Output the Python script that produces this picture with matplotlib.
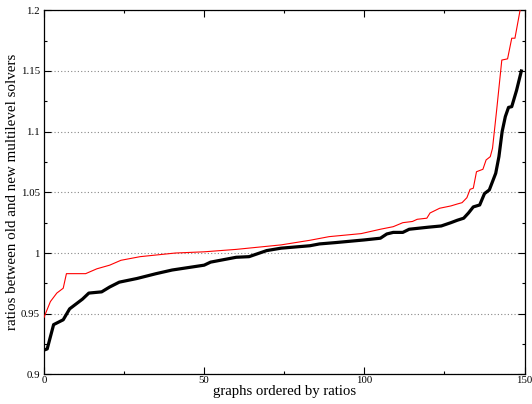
import matplotlib
matplotlib.use("Agg")
import matplotlib.pyplot as plt
from matplotlib.ticker import MultipleLocator, FuncFormatter

# data (knots of the piecewise curves)
black_x = [0, 1, 3, 6, 8, 10, 12, 14, 18, 20.5, 23.5, 29, 35, 40, 45, 50, 52, 60, 64,
           69.5, 74, 83, 86, 91, 100, 105, 107, 109, 112, 114, 120, 124, 127, 129, 131,
           132.5, 134, 136, 137.5, 139, 141, 142, 143, 144, 145, 146, 147.5, 149]
black_y = [0.920, 0.921, 0.941, 0.945, 0.954, 0.958, 0.962, 0.967, 0.968, 0.972, 0.976,
           0.979, 0.983, 0.986, 0.988, 0.990, 0.9925, 0.9965, 0.997, 1.002, 1.004, 1.006,
           1.0075, 1.0086, 1.0108, 1.0122, 1.0157, 1.017, 1.017, 1.0196, 1.0213, 1.0223,
           1.025, 1.027, 1.0287, 1.033, 1.038, 1.0396, 1.049, 1.052, 1.0657, 1.0794, 1.1,
           1.1124, 1.12, 1.1206, 1.134, 1.15]

red_x = [0, 2, 4, 6, 7, 13, 16.5, 20.5, 24, 30, 41, 50, 60, 74, 83, 89, 99, 105, 109,
         112, 115, 116.5, 119.5, 120.5, 123.5, 127, 129, 130.5, 132, 133, 134, 135, 137,
         138, 139.3, 140, 141.3, 142.9, 144.7, 146, 147, 148.6, 149]
red_y = [0.947, 0.960, 0.967, 0.971, 0.983, 0.983, 0.987, 0.990, 0.994, 0.997, 1.000,
         1.001, 1.003, 1.0067, 1.0105, 1.0135, 1.016, 1.0196, 1.0217, 1.025, 1.026,
         1.0278, 1.0287, 1.033, 1.0369, 1.0388, 1.0404, 1.0415, 1.0456, 1.0525, 1.0534,
         1.067, 1.069, 1.0767, 1.0794, 1.0863, 1.118, 1.159, 1.160, 1.177, 1.177, 1.2,
         1.203]

plt.rcParams['font.family'] = ['Liberation Serif', 'DejaVu Serif']

fig = plt.figure(figsize=(5.32, 4.04), dpi=100)
ax = fig.add_axes([0.0827, 0.0733, 0.9033, 0.9012])

ax.plot(red_x, red_y, color='#ff0000', lw=0.8, zorder=3)
ax.plot(black_x, black_y, color='black', lw=2.3, zorder=4)

ax.set_xlim(0, 150)
ax.set_ylim(0.9, 1.2)
ax.xaxis.set_major_locator(MultipleLocator(50))
ax.xaxis.set_minor_locator(MultipleLocator(25))
ax.yaxis.set_major_locator(MultipleLocator(0.05))
ax.yaxis.set_minor_locator(MultipleLocator(0.025))
ax.yaxis.set_major_formatter(FuncFormatter(lambda v, p: ('%.2f' % v).rstrip('0').rstrip('.')))

ax.tick_params(which='both', direction='in', top=True, right=True, labelsize=7.8,
               width=0.8)
ax.tick_params(axis='x', which='major', pad=1.5)
ax.tick_params(axis='y', which='major', pad=3)
ax.tick_params(which='major', length=5)
ax.tick_params(which='minor', length=2.5)
for s in ax.spines.values():
    s.set_linewidth(0.9)

ax.grid(axis='y', which='major', linestyle=(0, (1, 2)), color='#888888', lw=0.8)

ax.set_xlabel('graphs ordered by ratios', fontsize=10.6, labelpad=0)
ax.set_ylabel('ratios between old and new multilevel solvers', fontsize=10.8, labelpad=1)

fig.savefig('out.png', dpi=100)
